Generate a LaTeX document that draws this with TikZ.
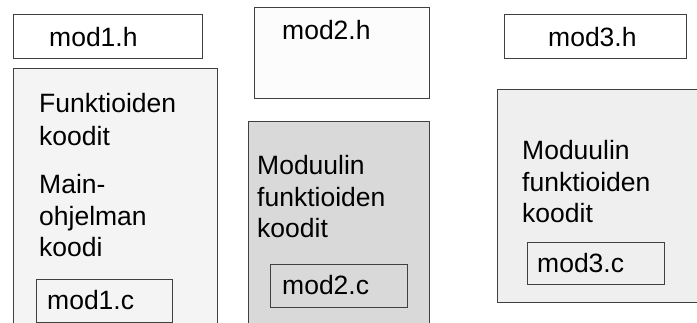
\documentclass[tikz,border=0pt]{standalone}
\usepackage{fontspec}
\setmainfont{Liberation Sans}
\definecolor{edge}{HTML}{404040}
\definecolor{fillA}{HTML}{F4F4F4}
\definecolor{fillB}{HTML}{D9D9D9}
\definecolor{fillC}{HTML}{EFEFEF}
\definecolor{fillH}{HTML}{FCFCFC}
\tikzset{
  filebox/.style={draw=edge, line width=0.9pt},
  lbl/.style={anchor=base west, inner sep=0pt, font=\fontsize{26.5}{32}\selectfont, text=black},
}
\begin{document}
\begin{tikzpicture}[x=1pt, y=-1pt]
\useasboundingbox (0,0) rectangle (697,323);
\clip (0,0) rectangle (697,323);
% header boxes
\draw[filebox, fill=white] (13,14) rectangle (202,58);
\draw[filebox, fill=fillH] (254,7) rectangle (429,98);
\draw[filebox, fill=white] (504,14) rectangle (686,58);
% module boxes
\draw[filebox, fill=fillA] (13,68) rectangle (217,330);
\draw[filebox, fill=fillB] (248,121) rectangle (429,330);
\draw[filebox, fill=fillC] (497,89) rectangle (702,302);
% inner source boxes
\draw[filebox, fill=fillA] (36,279) rectangle (172,322);
\draw[filebox, fill=fillB] (270,264) rectangle (407,307);
\draw[filebox, fill=fillC] (527,242) rectangle (664,284);
% labels
\node[lbl] (h1) at (49,47) {mod1.h};
\node[lbl] (h2) at (282,40) {mod2.h};
\node[lbl] (h3) at (548,47) {mod3.h};
\node[lbl] (a1) at (39,113) {Funktioiden};
\node[lbl] (a2) at (39,146) {koodit};
\node[lbl] (a3) at (39,194) {Main-};
\node[lbl] (a4) at (39,226) {ohjelman};
\node[lbl] (a5) at (39,257) {koodi};
\node[lbl] (c1) at (47,310) {mod1.c};
\node[lbl] (b1) at (257,175) {Moduulin};
\node[lbl] (b2) at (257,207) {funktioiden};
\node[lbl] (b3) at (257,238) {koodit};
\node[lbl] (c2) at (282,295) {mod2.c};
\node[lbl] (d1) at (522,160) {Moduulin};
\node[lbl] (d2) at (522,192) {funktioiden};
\node[lbl] (d3) at (522,223) {koodit};
\node[lbl] (c3) at (537,273) {mod3.c};
\end{tikzpicture}
\end{document}
